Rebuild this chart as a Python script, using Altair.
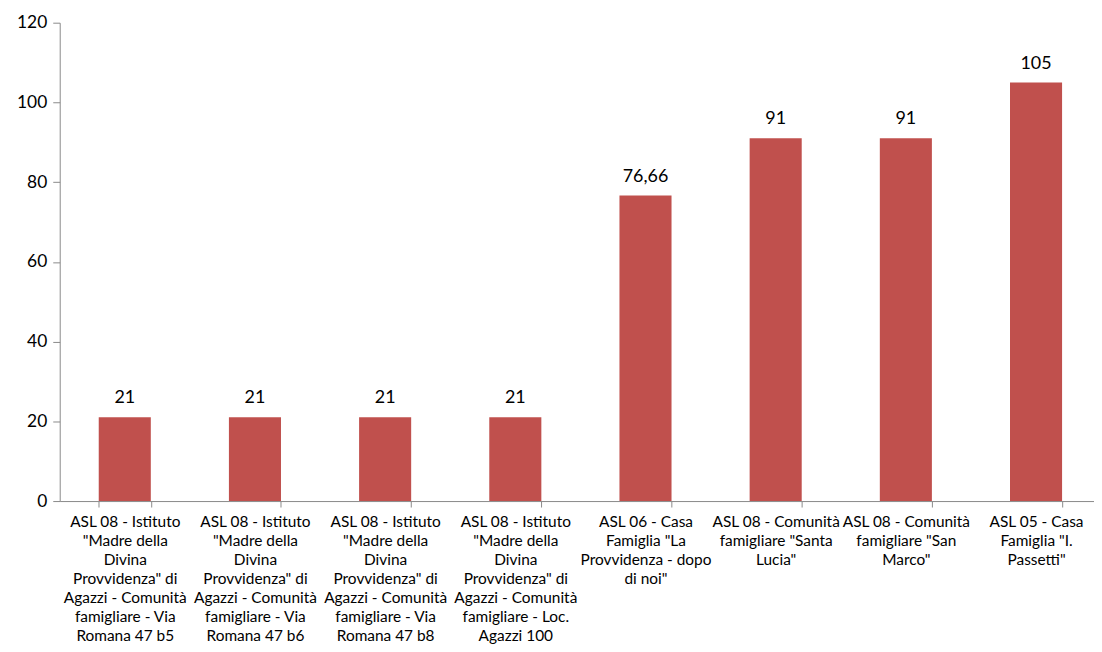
import altair as alt
import pandas as pd

categories = [
    'ASL 08 - Istituto|"Madre della|Divina|Provvidenza" di|Agazzi - Comunità|famigliare - Via|Romana 47 b5',
    'ASL 08 - Istituto|"Madre della|Divina|Provvidenza" di|Agazzi - Comunità|famigliare - Via|Romana 47 b6',
    'ASL 08 - Istituto|"Madre della|Divina|Provvidenza" di|Agazzi - Comunità|famigliare - Via|Romana 47 b8',
    'ASL 08 - Istituto|"Madre della|Divina|Provvidenza" di|Agazzi - Comunità|famigliare - Loc.|Agazzi 100',
    'ASL 06 - Casa|Famiglia "La|Provvidenza - dopo|di noi"',
    'ASL 08 - Comunità|famigliare "Santa|Lucia"',
    'ASL 08 - Comunità|famigliare "San|Marco"',
    'ASL 05 - Casa|Famiglia "I.|Passetti"',
]
values = [21, 21, 21, 21, 76.66, 91, 91, 105]
value_labels = ["21", "21", "21", "21", "76,66", "91", "91", "105"]

df = pd.DataFrame({"cat": categories, "val": values, "lab": value_labels})

FONT = "Lato"
x = alt.X("cat:N", sort=None, title=None,
          scale=alt.Scale(paddingInner=0.6, paddingOuter=0.2725, align=0.55, round=False),
          axis=alt.Axis(labelAngle=0, labelExpr="split(datum.label, '|')",
                        labelFont=FONT, labelFontSize=15.5, labelColor="#000000",
                        labelLineHeight=19, labelBaseline="top", labelPadding=8,
                        labelLimit=200,
                        domainColor="#898989", tickColor="#898989", tickSize=6,
                        tickBand="extent", grid=False))
y = alt.Y("val:Q", title=None,
          scale=alt.Scale(domain=[0, 120], nice=False),
          axis=alt.Axis(values=[0, 20, 40, 60, 80, 100, 120], grid=False,
                        labelFont=FONT, labelFontSize=17.5, labelColor="#000000",
                        labelPadding=6,
                        domainColor="#898989", tickColor="#898989", tickSize=7))

bars = alt.Chart(df).mark_bar(color="#C0504D").encode(x=x, y=y)
text = alt.Chart(df).mark_text(dy=-14, font=FONT, fontSize=18, color="#000000",
                               baseline="alphabetic").encode(x=x, y=y, text="lab:N")

chart = (bars + text).properties(
    width=1040, height=481,
    autosize=alt.AutoSizeParams(type="none"),
    padding={"left": 52, "top": 13, "right": 0, "bottom": 150},
).configure_view(stroke=None)

chart.save("out.html", embed_options={"renderer": "svg", "actions": False})
